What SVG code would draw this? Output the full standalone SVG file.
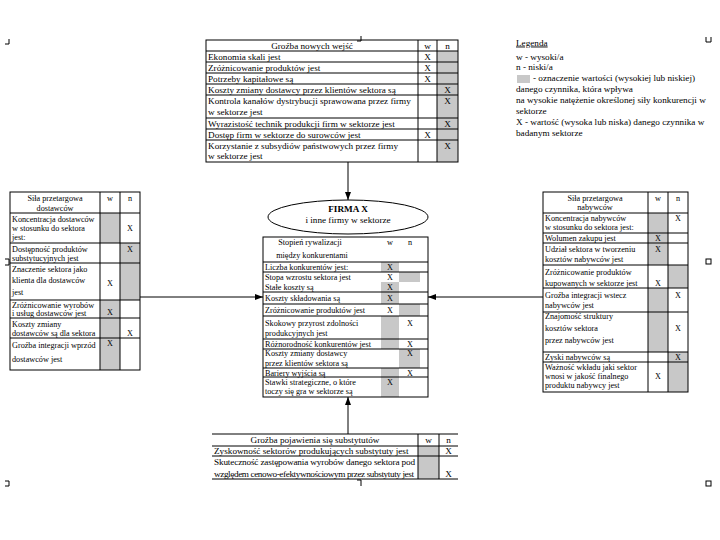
<svg xmlns="http://www.w3.org/2000/svg" width="720" height="540" viewBox="0 0 720 540">
<style>
text{font-family:"Liberation Serif","Times New Roman",serif;font-size:9.2px;fill:#000}
.s{font-size:8.2px}
.m{text-anchor:middle}
.b{font-weight:bold}
.ln{stroke:#000;stroke-width:1;fill:none}
.g{fill:#c8c8c8}
.k{stroke:#000;stroke-width:1;fill:none}
</style>
<defs>
<marker id="ah" markerWidth="8" markerHeight="6" refX="8" refY="3" orient="auto" markerUnits="userSpaceOnUse">
<path d="M0,0 L8,3 L0,6 z" fill="#000"/>
</marker>
</defs>
<rect width="720" height="540" fill="#fff"/>

<g id="marks" class="k">
<path d="M5 44 H9 V39"/>
<path d="M357 41 H361 V36"/>
<path d="M706 37 V42 H711 V37"/>
<path d="M5 259 H9 V265 H5"/>
<rect x="706" y="259" width="5" height="5"/>
<path d="M5 481 H9 V486 H5"/>
<path d="M357 480 H361 V486"/>
<rect x="706" y="481" width="5" height="5"/>
</g>

<g id="nowe-wejscia">
<rect class="g" x="437" y="51" width="21" height="111"/>
<rect class="ln" x="206" y="40" width="252" height="122"/>
<path class="ln" d="M206 51 H458 M206 62 H458 M206 73 H458 M206 84 H458 M206 95 H458 M206 118 H458 M206 129 H458 M206 140 H458 M418 40 V162 M437 40 V162"/>
<text class="m" x="312" y="48.5">Groźba nowych wejść</text>
<text class="m" x="427.5" y="48.5">w</text>
<text class="m" x="447.5" y="48.5">n</text>
<text x="208" y="59.5">Ekonomia skali jest</text>
<text x="208" y="70.5">Zróżnicowanie produktów jest</text>
<text x="208" y="81.5">Potrzeby kapitałowe są</text>
<text x="208" y="92.5">Koszty zmiany dostawcy przez klientów sektora są</text>
<text x="208" y="103.5">Kontrola kanałów dystrybucji sprawowana przez firmy</text>
<text x="208" y="114.5">w sektorze jest</text>
<text x="208" y="126.5">Wyrazistość technik produkcji firm w sektorze jest</text>
<text x="208" y="137.5">Dostęp firm w sektorze do surowców jest</text>
<text x="208" y="148.5">Korzystanie z subsydiów państwowych przez firmy</text>
<text x="208" y="159">w sektorze jest</text>
<text class="m" x="427.5" y="59.5">X</text>
<text class="m" x="427.5" y="70.5">X</text>
<text class="m" x="427.5" y="81.5">X</text>
<text class="m" x="447.5" y="92.5">X</text>
<text class="m" x="447.5" y="103.5">X</text>
<text class="m" x="447.5" y="126.5">X</text>
<text class="m" x="427.5" y="137.5">X</text>
<text class="m" x="447.5" y="148.5">X</text>
</g>

<g id="legenda">
<text x="516" y="45.5" text-decoration="underline">Legenda</text>
<text x="516" y="59.5">w - wysoki/a</text>
<text x="516" y="70">n - niski/a</text>
<rect class="g" x="517" y="75" width="13" height="8"/>
<text x="533" y="81">- oznaczenie wartości (wysokiej lub niskiej)</text>
<text x="516" y="91.5">danego czynnika, która wpływa</text>
<text x="516" y="103">na wysokie natężenie określonej siły konkurencji w</text>
<text x="516" y="114">sektorze</text>
<text x="516" y="124.5">X - wartość (wysoka lub niska) danego czynnika w</text>
<text x="516" y="135.5">badanym sektorze</text>
</g>

<g id="dostawcy" class="s">
<rect class="g" x="100" y="213" width="20" height="30"/>
<rect class="g" x="120" y="243" width="20" height="20"/>
<rect class="g" x="120" y="263" width="20" height="37"/>
<rect class="g" x="100" y="300" width="20" height="18"/>
<rect class="g" x="100" y="318" width="20" height="20"/>
<rect class="g" x="100" y="338" width="20" height="32"/>
<rect class="ln" x="10" y="192" width="130" height="178"/>
<path class="ln" d="M10 213 H140 M10 243 H140 M10 263 H140 M10 300 H140 M10 318 H140 M10 338 H140 M100 192 V370 M120 192 V370"/>
<text class="s m" x="55" y="201">Siła przetargowa</text>
<text class="s m" x="55" y="210.5">dostawców</text>
<text class="s m" x="110" y="201">w</text>
<text class="s m" x="130" y="201">n</text>
<text class="s" x="12" y="221.5">Koncentracja dostawców</text>
<text class="s" x="12" y="230.5">w stosunku do sektora</text>
<text class="s" x="12" y="239.5">jest:</text>
<text class="s" x="12" y="251.5">Dostępność produktów</text>
<text class="s" x="12" y="260.5">substytucyjnych jest</text>
<text class="s" x="12" y="271.5">Znaczenie sektora jako</text>
<text class="s" x="12" y="283">klienta dla dostawców</text>
<text class="s" x="12" y="294.5">jest</text>
<text class="s" x="12" y="307.5">Zróżnicowanie wyrobów</text>
<text class="s" x="12" y="316">i usług dostawców jest</text>
<text class="s" x="12" y="327">Koszty zmiany</text>
<text class="s" x="12" y="335.5">dostawców są dla sektora</text>
<text class="s" x="12" y="347.5">Groźba integracji wprzód</text>
<text class="s" x="12" y="362">dostawców jest</text>
<text class="s m" x="130" y="230.5">X</text>
<text class="s m" x="130" y="252">X</text>
<text class="s m" x="110" y="286">X</text>
<text class="s m" x="110" y="315">X</text>
<text class="s m" x="130" y="335.5">X</text>
<text class="s m" x="110" y="346">X</text>
</g>

<g id="firma">
<ellipse class="ln" cx="348" cy="217" rx="80" ry="17" fill="#fff"/>
<text class="m b" x="348" y="212">FIRMA X</text>
<text class="m" x="348" y="222.5">i inne firmy w sektorze</text>
</g>

<g id="rywalizacja" class="s">
<rect class="g" x="381" y="262" width="18" height="10"/>
<rect class="g" x="399" y="272" width="21" height="10"/>
<rect class="g" x="381" y="282" width="18" height="10"/>
<rect class="g" x="381" y="292" width="18" height="12"/>
<rect class="g" x="399" y="304" width="21" height="12"/>
<rect class="g" x="381" y="316" width="18" height="33"/>
<rect class="g" x="399" y="349" width="21" height="19"/>
<rect class="g" x="381" y="368" width="18" height="29"/>
<rect class="ln" x="263" y="237" width="165" height="160"/>
<path class="ln" d="M263 262 H428 M263 272 H428 M263 292 H428 M263 304 H428 M263 316 H428 M263 339 H428 M263 349 H428 M263 368 H428 M263 377 H428"/>
<text class="s m" x="310" y="245">Stopień rywalizacji</text>
<text class="s m" x="312" y="258">między konkurentami</text>
<text class="s m" x="390" y="245">w</text>
<text class="s m" x="410" y="245">n</text>
<text class="s" x="265" y="269.5">Liczba konkurentów jest:</text>
<text class="s" x="265" y="280">Stopa wzrostu sektora jest</text>
<text class="s" x="265" y="289.5">Stałe koszty są</text>
<text class="s" x="265" y="301">Koszty składowania są</text>
<text class="s" x="265" y="312.5">Zróżnicowanie produktów jest</text>
<text class="s" x="265" y="325.5">Skokowy przyrost zdolności</text>
<text class="s" x="265" y="336">produkcyjnych jest</text>
<text class="s" x="265" y="346.5">Różnorodność konkurentów jest</text>
<text class="s" x="265" y="356">Koszty zmiany dostawcy</text>
<text class="s" x="265" y="365.5">przez klientów sektora są</text>
<text class="s" x="265" y="375.5">Bariery wyjścia są</text>
<text class="s" x="265" y="384.5">Stawki strategiczne, o które</text>
<text class="s" x="265" y="394">toczy się gra w sektorze są</text>
<text class="s m" x="390" y="269.5">X</text>
<text class="s m" x="390" y="280">X</text>
<text class="s m" x="390" y="289.5">X</text>
<text class="s m" x="390" y="301">X</text>
<text class="s m" x="390" y="312.5">X</text>
<text class="s m" x="410" y="325.5">X</text>
<text class="s m" x="410" y="346.5">X</text>
<text class="s m" x="410" y="356">X</text>
<text class="s m" x="410" y="375.5">X</text>
<text class="s m" x="390" y="384.5">X</text>
</g>

<g id="nabywcy" class="s">
<rect class="g" x="648" y="213" width="20" height="20"/>
<rect class="g" x="648" y="233" width="20" height="10"/>
<rect class="g" x="648" y="243" width="20" height="22"/>
<rect class="g" x="668" y="265" width="20" height="23"/>
<rect class="g" x="648" y="288" width="20" height="64"/>
<rect class="g" x="668" y="352" width="20" height="40"/>
<rect class="ln" x="543" y="192" width="145" height="200"/>
<path class="ln" d="M543 213 H688 M543 233 H688 M543 243 H688 M543 265 H688 M543 288 H688 M543 312 H688 M543 352 H688 M543 362 H688 M648 192 V392 M668 192 V392"/>
<text class="s m" x="595" y="200.5">Siła przetargowa</text>
<text class="s m" x="595" y="210">nabywców</text>
<text class="s m" x="658" y="200.5">w</text>
<text class="s m" x="678" y="200.5">n</text>
<text class="s" x="545" y="221">Koncentracja nabywców</text>
<text class="s" x="545" y="230">w stosunku do sektora jest:</text>
<text class="s" x="545" y="241">Wolumen zakupu jest</text>
<text class="s" x="545" y="251.5">Udział sektora w tworzeniu</text>
<text class="s" x="545" y="262">kosztów nabywców jest</text>
<text class="s" x="545" y="275">Zróżnicowanie produktów</text>
<text class="s" x="545" y="285.5">kupowanych w sektorze jest</text>
<text class="s" x="545" y="298">Groźba integracji wstecz</text>
<text class="s" x="545" y="307.5">nabywców jest</text>
<text class="s" x="545" y="318.5">Znajomość struktury</text>
<text class="s" x="545" y="330.5">kosztów sektora</text>
<text class="s" x="545" y="343">przez nabywców jest</text>
<text class="s" x="545" y="359.5">Zyski nabywców są</text>
<text class="s" x="545" y="369.5">Ważność wkładu jaki sektor</text>
<text class="s" x="545" y="378.5">wnosi w jakość finalnego</text>
<text class="s" x="545" y="388">produktu nabywcy jest</text>
<text class="s m" x="678" y="221">X</text>
<text class="s m" x="658" y="241">X</text>
<text class="s m" x="658" y="251.5">X</text>
<text class="s m" x="658" y="285.5">X</text>
<text class="s m" x="678" y="298">X</text>
<text class="s m" x="678" y="330.5">X</text>
<text class="s m" x="678" y="359.5">X</text>
<text class="s m" x="658" y="378.5">X</text>
</g>

<g id="substytuty">
<rect class="g" x="418" y="446" width="21" height="33"/>
<path class="ln" d="M212 434 H458 M212 446 H458 M212 456 H458 M212 479 H458 M418 434 V479 M439 434 V479"/>
<text class="m" x="315" y="443">Groźba pojawienia się substytutów</text>
<text class="m" x="428.5" y="443">w</text>
<text class="m" x="448.5" y="443">n</text>
<text x="214" y="453.5">Zyskowność sektorów produkujących substytuty jest</text>
<text x="214" y="465" textLength="201" lengthAdjust="spacing">Skuteczność zastępowania wyrobów danego sektora pod</text>
<text x="214" y="476.5" textLength="200" lengthAdjust="spacing">względem cenowo-efektywnościowym przez substytuty jest</text>
<text class="m" x="448.5" y="453.5">X</text>
<text class="m" x="448.5" y="476.5">X</text>
</g>

<g id="connectors" class="ln">
<path d="M348 162 V200" marker-end="url(#ah)"/>
<path d="M140 297 H263" marker-end="url(#ah)"/>
<path d="M543 297 H428" marker-end="url(#ah)"/>
<path d="M348 434 V397" marker-end="url(#ah)"/>
</g>
</svg>
